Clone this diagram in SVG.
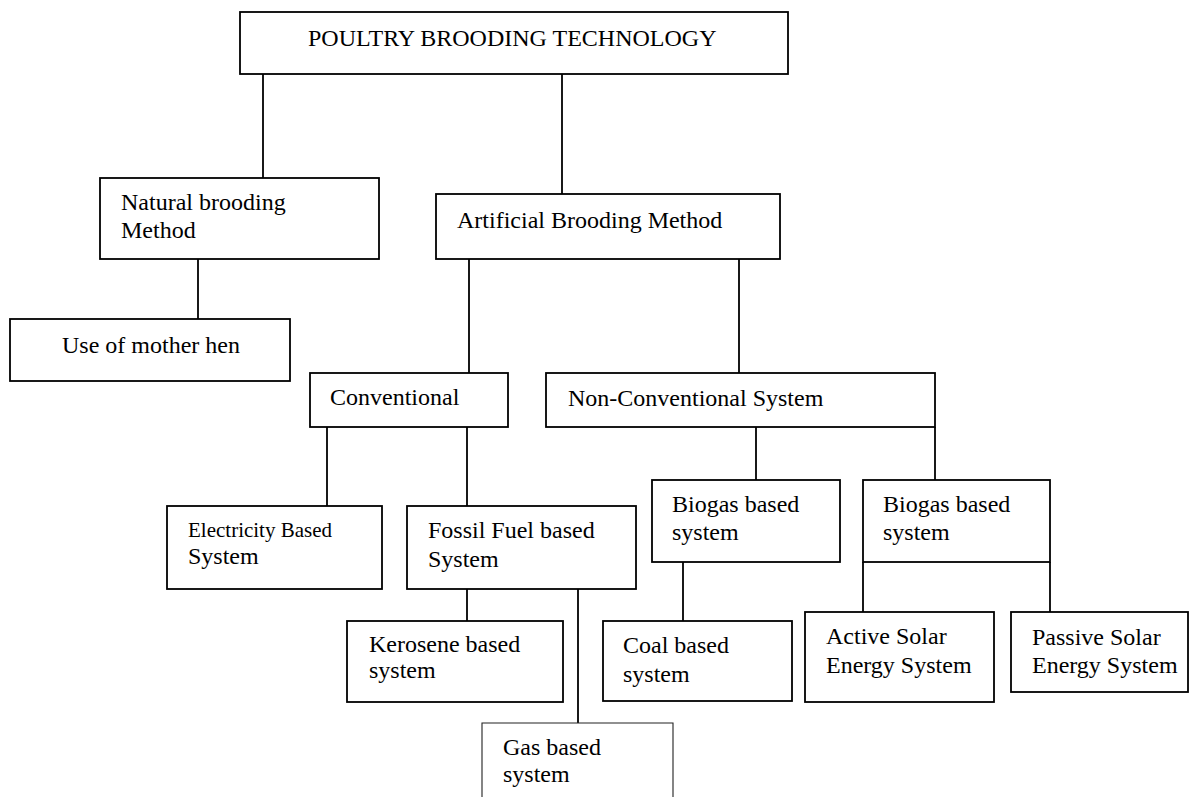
<svg xmlns="http://www.w3.org/2000/svg" width="1190" height="797" viewBox="0 0 1190 797">
  <style>
    .box { fill: #fff; stroke: #000; stroke-width: 1.8; }
    .thin { fill: #fff; stroke: #222; stroke-width: 1.1; }
    .lbl { font-family: "Liberation Serif", "Times New Roman", serif; font-size: 24px; fill: #000; }
    .sm { font-size: 21px; }
    .wire { stroke: #000; stroke-width: 1.8; fill: none; }
  </style>
  <rect width="1190" height="797" fill="#fff"/>

  <!-- connectors -->
  <g id="connectors" class="wire">
    <line x1="263" y1="74" x2="263" y2="178"/>
    <line x1="562" y1="74" x2="562" y2="194"/>
    <line x1="198" y1="259" x2="198" y2="319"/>
    <line x1="469" y1="259" x2="469" y2="373"/>
    <line x1="739" y1="259" x2="739" y2="373"/>
    <line x1="327" y1="427" x2="327" y2="506"/>
    <line x1="467" y1="427" x2="467" y2="506"/>
    <line x1="756" y1="427" x2="756" y2="480"/>
    <line x1="935" y1="427" x2="935" y2="480"/>
    <line x1="467" y1="589" x2="467" y2="621"/>
    <line x1="578" y1="589" x2="578" y2="723"/>
    <line x1="683" y1="562" x2="683" y2="621"/>
    <line x1="863" y1="562" x2="863" y2="612"/>
    <line x1="1050" y1="562" x2="1050" y2="612"/>
  </g>

  <g id="root">
    <rect class="box" x="240" y="12" width="548" height="62"/>
    <text class="lbl" x="308" y="46">POULTRY BROODING TECHNOLOGY</text>
  </g>

  <g id="natural">
    <rect class="box" x="100" y="178" width="279" height="81"/>
    <text class="lbl" x="121" y="210">Natural brooding</text>
    <text class="lbl" x="121" y="238">Method</text>
  </g>

  <g id="mother-hen">
    <rect class="box" x="10" y="319" width="280" height="62"/>
    <text class="lbl" x="62" y="353">Use of mother hen</text>
  </g>

  <g id="artificial">
    <rect class="box" x="436" y="194" width="344" height="65"/>
    <text class="lbl" x="457" y="228">Artificial Brooding Method</text>
  </g>

  <g id="conventional">
    <rect class="box" x="310" y="373" width="198" height="54"/>
    <text class="lbl" x="330" y="405">Conventional</text>
  </g>

  <g id="non-conventional">
    <rect class="box" x="546" y="373" width="389" height="54"/>
    <text class="lbl" x="568" y="406">Non-Conventional System</text>
  </g>

  <g id="electricity">
    <rect class="box" x="167" y="506" width="215" height="83"/>
    <text class="lbl sm" x="188" y="537">Electricity Based</text>
    <text class="lbl" x="188" y="564">System</text>
  </g>

  <g id="fossil">
    <rect class="box" x="407" y="506" width="229" height="83"/>
    <text class="lbl" x="428" y="538">Fossil Fuel based</text>
    <text class="lbl" x="428" y="567">System</text>
  </g>

  <g id="kerosene">
    <rect class="box" x="347" y="621" width="216" height="81"/>
    <text class="lbl" x="369" y="652">Kerosene based</text>
    <text class="lbl" x="369" y="678">system</text>
  </g>

  <g id="gas">
    <path class="thin" d="M482,800 V723 H673 V800"/>
    <text class="lbl" x="503" y="755">Gas based</text>
    <text class="lbl" x="503" y="782">system</text>
  </g>

  <g id="biogas-1">
    <rect class="box" x="652" y="480" width="188" height="82"/>
    <text class="lbl" x="672" y="512">Biogas based</text>
    <text class="lbl" x="672" y="540">system</text>
  </g>

  <g id="biogas-2">
    <rect class="box" x="863" y="480" width="187" height="82"/>
    <text class="lbl" x="883" y="512">Biogas based</text>
    <text class="lbl" x="883" y="540">system</text>
  </g>

  <g id="coal">
    <rect class="box" x="603" y="621" width="189" height="80"/>
    <text class="lbl" x="623" y="653">Coal based</text>
    <text class="lbl" x="623" y="682">system</text>
  </g>

  <g id="active-solar">
    <rect class="box" x="805" y="612" width="189" height="90"/>
    <text class="lbl" x="826" y="644">Active Solar</text>
    <text class="lbl" x="826" y="673">Energy System</text>
  </g>

  <g id="passive-solar">
    <rect class="box" x="1011" y="612" width="177" height="80"/>
    <text class="lbl" x="1032" y="645">Passive Solar</text>
    <text class="lbl" x="1032" y="673">Energy System</text>
  </g>
</svg>
